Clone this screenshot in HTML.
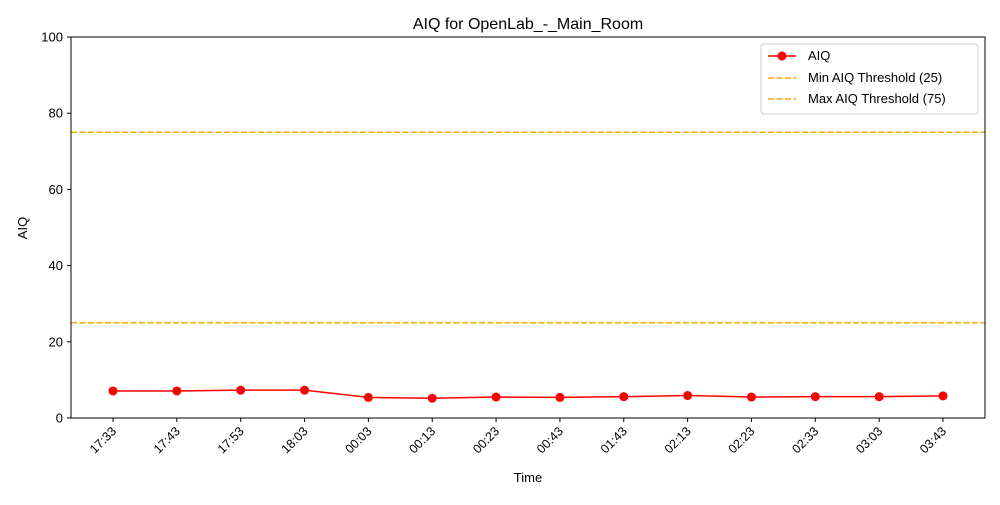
<!DOCTYPE html>
<html><head><meta charset="utf-8"><style>body{margin:0;background:#fff}svg{font-family:"Liberation Sans","DejaVu Sans",sans-serif}</style></head>
<body>
<svg id="c" width="1000" height="500"></svg>
<script>
const categories=["17:33","17:43","17:53","18:03","00:03","00:13","00:23","00:43","01:43","02:13","02:23","02:33","03:03","03:43"];
const aiqValues=[7.1,7.1,7.3,7.3,5.4,5.2,5.5,5.4,5.6,5.9,5.5,5.6,5.6,5.8];
const yTicks=[0,20,40,60,80,100];
const minThreshold=25, maxThreshold=75;
const L=71,R=985,T=37,B=418;
const step=(943-113)/13;
const x=i=>113+i*step;
const y=v=>B-(v/100)*(B-T);
const svg=document.getElementById('c');
const NS='http://www.w3.org/2000/svg';
function mk(tag,attrs,parent){const e=document.createElementNS(NS,tag);for(const k in attrs)e.setAttribute(k,attrs[k]);(parent||svg).appendChild(e);return e;}
let t=mk('text',{x:528,y:29,'text-anchor':'middle','font-size':16});t.textContent='AIQ for OpenLab_-_Main_Room';


yTicks.forEach(v=>{mk('line',{x1:L-4,x2:L,y1:y(v),y2:y(v),stroke:'#000'});
 const e=mk('text',{x:L-8,y:y(v)+4.5,'text-anchor':'end','font-size':13});e.textContent=v;
 
 });
categories.forEach((c,i)=>{mk('line',{x1:x(i),x2:x(i),y1:B,y2:B+4,stroke:'#000'});
 const e=mk('text',{x:x(i)+4,y:B+14,'text-anchor':'end','font-size':12.5,transform:`rotate(-45 ${x(i)+4} ${B+14})`});e.textContent=c;
 
 });
t=mk('text',{x:528,y:482,'text-anchor':'middle','font-size':13});t.textContent='Time';


t=mk('text',{x:27,y:228,'text-anchor':'middle','font-size':13,transform:'rotate(-90 27 228)'});t.textContent='AIQ';


[minThreshold,maxThreshold].forEach((v,k)=>{const l=mk('line',{x1:L,x2:R,y1:y(v),y2:y(v),stroke:'orange','stroke-width':1.5,'stroke-dasharray':'6,2.5'});
 
 });
const p=mk('polyline',{points:aiqValues.map((v,i)=>x(i)+','+y(v)).join(' '),fill:'none',stroke:'red','stroke-width':1.5});


aiqValues.forEach((v,i)=>{const c=mk('circle',{cx:x(i),cy:y(v),r:4.5,fill:'red'});
 
 });
const fr=mk('rect',{x:L,y:T,width:R-L,height:B-T,fill:'none',stroke:'#000','stroke-width':1});


const lg=mk('g',{});


mk('rect',{x:761,y:44,width:217,height:70,rx:3,fill:'#fff',stroke:'#ccc'},lg);
mk('line',{x1:768,x2:796,y1:56,y2:56,stroke:'red','stroke-width':1.5},lg);
mk('circle',{cx:782,cy:56,r:4.5,fill:'red'},lg);
mk('line',{x1:768,x2:796,y1:78,y2:78,stroke:'orange','stroke-width':1.5,'stroke-dasharray':'6,2.5'},lg);
mk('line',{x1:768,x2:796,y1:99,y2:99,stroke:'orange','stroke-width':1.5,'stroke-dasharray':'6,2.5'},lg);
[['AIQ',60],['Min AIQ Threshold (25)',82],['Max AIQ Threshold (75)',103]].forEach(([s,yy])=>{const e=mk('text',{x:808,y:yy,'font-size':13},lg);e.textContent=s;
 
 });
</script>
</body></html>
